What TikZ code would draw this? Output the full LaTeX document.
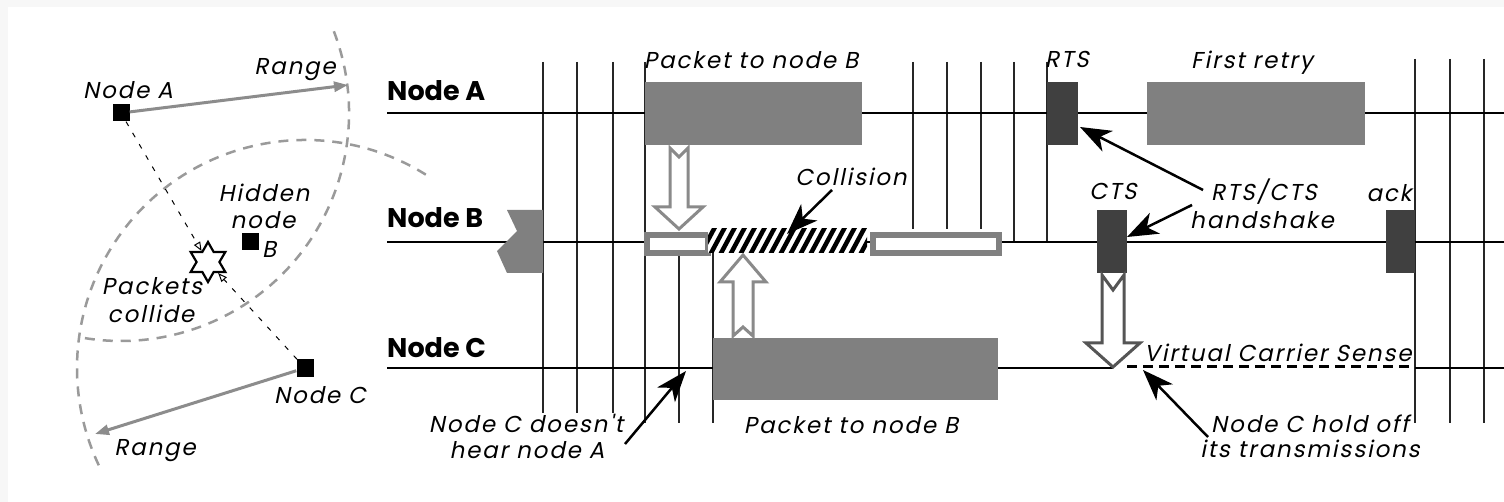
\documentclass[tikz,border=0pt]{standalone}
\usepackage{fontspec}
\setmainfont{Poppins}
\newfontfamily\itf[FakeSlant=0.2,LetterSpace=8]{Poppins}
\usetikzlibrary{arrows.meta,shapes.geometric}
\definecolor{boxgray}{HTML}{808080}
\definecolor{darkbox}{HTML}{404040}
\definecolor{holgray}{HTML}{8A8A8A}
\definecolor{holdark}{HTML}{555555}
\definecolor{arcgray}{HTML}{9A9A9A}
\definecolor{rnggray}{HTML}{8C8C8C}
\definecolor{bggray}{HTML}{F7F7F7}
\begin{document}
\begin{tikzpicture}[x=1pt,y=-1pt,
  it/.style={font=\itf\fontsize{23}{27}\selectfont, inner sep=0pt, anchor=base},
  ttl/.style={font=\bfseries\fontsize{27}{30}\selectfont, inner sep=0pt, anchor=base west},
  tline/.style={line width=1.5pt, black},
  vline/.style={line width=1.2pt, black!85},
  gbox/.style={fill=boxgray, inner sep=0pt, anchor=north west},
  dbox/.style={fill=darkbox, inner sep=0pt, anchor=north west},
  obox/.style={draw=boxgray, line width=6pt, fill=white, inner sep=0pt, anchor=north west, minimum height=18pt},
  ann/.style={line width=2.5pt, -{Stealth[length=31pt,width=23pt,inset=9pt]}},
  hol/.style={draw=holgray, line width=3pt, fill=white, line join=miter},
  rarc/.style={draw=arcgray, line width=2.5pt, dash pattern=on 10pt off 8pt},
  rng/.style={draw=rnggray, line width=3pt, -{Triangle[length=14pt,width=10pt]}},
  sq/.style={fill=black, minimum size=17pt, inner sep=0pt},
  ray/.style={line width=1pt, dash pattern=on 5pt off 8pt, -{Triangle[open,length=9pt,width=7pt]}}
]
\useasboundingbox (0,0) rectangle (1504,502);
\fill[bggray] (0,0) rectangle (1504,502);
\fill[white] (8,7) rectangle (1504,502);

% ---------------- left: coverage sketch ----------------
\node[sq] (nA) at (121,113) {};
\node[sq] (nB) at (250,242) {};
\node[sq] (nC) at (305,368) {};
\draw[rarc] ([shift={(-21:228)}]nA.center) arc[start angle=-21, end angle=100, radius=228];
\draw[rarc] ([shift={(-58:228)}]nC.center) arc[start angle=-58, end angle=-207, radius=228];
\coordinate (rA) at (348,85);
\coordinate (rC) at (95,434);
\draw[rng] (nA) -- (rA);
\draw[rng] (nC) -- (rC);
\node[star, star points=6, star point ratio=1.75, draw, line width=2.2pt, fill=white, minimum size=40pt, inner sep=0pt] (st) at (208,262) {};
\draw[ray] (nA) -- (st);
\draw[ray] (nC) -- (st);
\node[it] (labA) at (128,99) {Node A};
\node[it] (rngA) at (295,75) {Range};
\node[it] (hid1) at (264,202) {Hidden};
\node[it] (hid2) at (263,229) {node};
\node[it, anchor=base west] (labB) at (262,258) {B};
\node[it] (pc1) at (152,295) {Packets};
\node[it] (pc2) at (151,323) {collide};
\node[it] (labC) at (320,403) {Node C};
\node[it] (rngC) at (155,455) {Range};

% ---------------- right: timing diagram ----------------
% vertical time marks
\foreach \x in {543,577,613} \draw[vline] (\x,62) -- (\x,413);
\draw[vline] (645,62) -- (645,423);
\draw[vline] (679,253) -- (679,423);
\draw[vline] (713,253) -- (713,423);
\foreach \x in {913,947,981} \draw[vline] (\x,62) -- (\x,229);
\foreach \x in {1014,1047} \draw[vline] (\x,62) -- (\x,243);
\foreach \x in {1415,1450,1484} \draw[vline] (\x,59) -- (\x,423);

% timelines
\node[ttl] (tA) at (387,101) {Node A};
\node[ttl] (tB) at (387,228) {Node B};
\node[ttl] (tC) at (387,357) {Node C};
\draw[tline] (387,113) -- (1504,113);
\draw[tline] (387,242) -- (1504,242);
\draw[tline] (387,368) -- (1113,368);
\draw[tline] (1415,368) -- (1504,368);
\draw[line width=3pt, dash pattern=on 10pt off 6pt] (1127,367) -- (1415,367);

% node A
\node[gbox, minimum width=217pt, minimum height=63pt] (pA) at (645,82) {};
\node[dbox, minimum width=31pt, minimum height=63pt] (rts) at (1047,82) {};
\node[gbox, minimum width=218pt, minimum height=63pt] (retry) at (1147,82) {};
% node B
\fill[boxgray] (507,210) -- (543,210) -- (543,273) -- (507,273) -- (497,251) -- (517,231) -- cycle;
\node[obox, minimum width=61pt] (bL) at (644,232) {};
\node[obox, minimum width=126pt] (bR) at (870,232) {};
\begin{scope}
  \clip (708,229) rectangle (867,253);
  \fill[white] (708,229) rectangle (867,253);
  \foreach \x in {690,700,...,880} \draw[line width=4.5pt] (\x,255) -- (\x+15,227);
\end{scope}
\coordinate (coll) at (787,234);
\node[dbox, minimum width=30pt, minimum height=63pt] (cts) at (1097,210) {};
\node[dbox, minimum width=29pt, minimum height=63pt] (ack) at (1386,210) {};
% node C
\node[gbox, minimum width=285pt, minimum height=62pt] (pC) at (713,338) {};

% hollow arrows
\draw[hol] (670,148) -- (679,157) -- (688,148) -- (688,207) -- (703,207) -- (679,229) -- (655,207) -- (670,207) -- cycle;
\draw[hol] (733,336) -- (743,327) -- (753,336) -- (753,282) -- (766,282) -- (743,255) -- (720,282) -- (733,282) -- cycle;
\draw[hol, draw=holdark] (1102,275) -- (1113,290) -- (1124,275) -- (1124,343) -- (1140,343) -- (1113,367) -- (1086,343) -- (1102,343) -- cycle;

% labels
\node[it] (lpA) at (751,69) {Packet to node B};
\node[it] (lrts) at (1067,68) {RTS};
\node[it] (lretry) at (1252,69) {First retry};
\node[it] (lcoll) at (851,186) {Collision};
\node[it] (lcts) at (1113,200) {CTS};
\node[it] (lack) at (1389,202) {ack};
\node[it] (hs1) at (1264,201) {RTS/CTS};
\node[it] (hs2) at (1262,229) {handshake};
\node[it] (nh1) at (526,432) {Node C doesn't};
\node[it] (nh2) at (527,458) {hear node A};
\node[it] (lpC) at (851,433) {Packet to node B};
\node[it] (lvcs) at (1278,362) {Virtual Carrier Sense};
\node[it] (ho1) at (1310,432) {Node C hold off};
\node[it] (ho2) at (1310,457) {its transmissions};

% annotation arrows
\coordinate (collS) at (832,190);
\coordinate (rtsS) at (1203,190);
\coordinate (rtsT) at (1080,127);
\coordinate (ctsS) at (1192,205);
\coordinate (ctsT) at (1127,237);
\coordinate (nhS) at (625,444);
\coordinate (nhT) at (686,371);
\coordinate (hoS) at (1208,437);
\coordinate (hoT) at (1143,370);
\draw[ann] (collS) -- (coll);
\draw[ann] (rtsS) -- (rtsT);
\draw[ann] (ctsS) -- (ctsT);
\draw[ann] (nhS) -- (nhT);
\draw[ann] (hoS) -- (hoT);
\end{tikzpicture}
\end{document}
